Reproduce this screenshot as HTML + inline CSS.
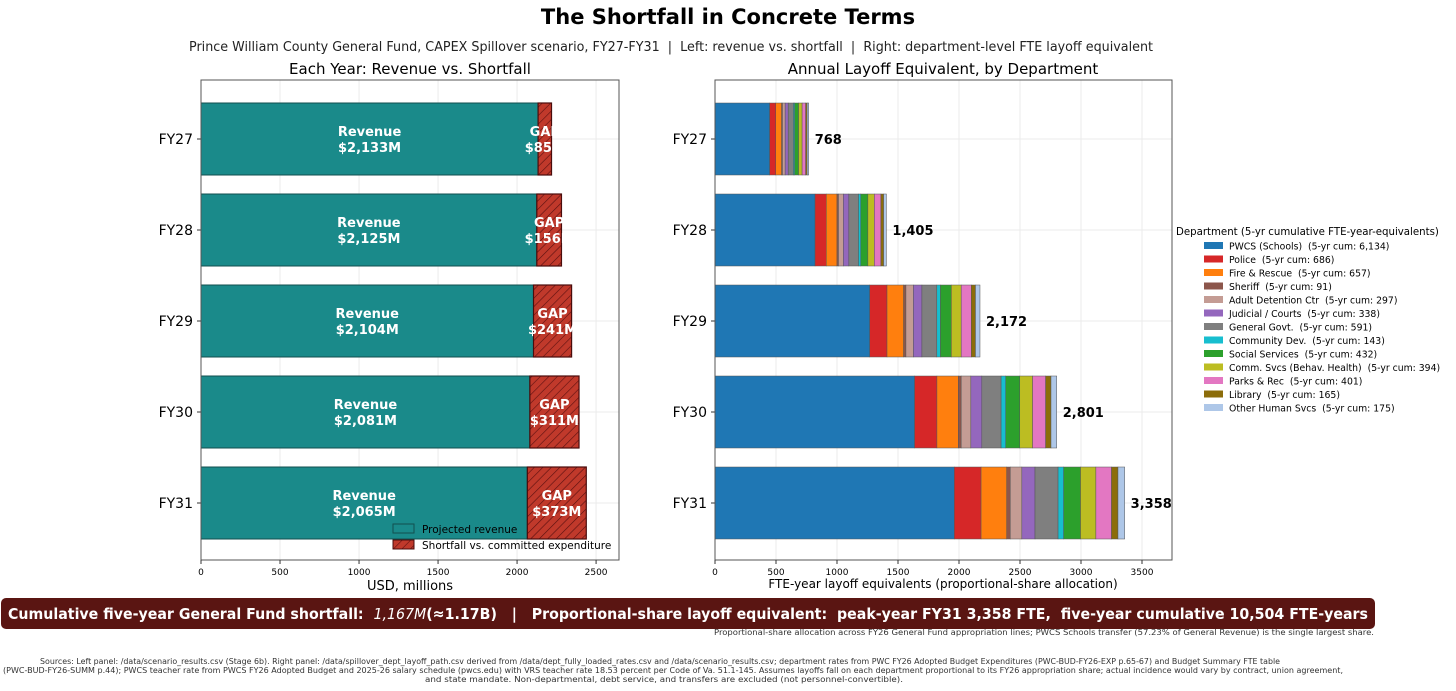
<!DOCTYPE html>
<html><head><meta charset="utf-8"><style>
html,body{margin:0;padding:0;background:#fff;}
svg{display:block;font-family:"DejaVu Sans","Liberation Sans",sans-serif;}
svg text{white-space:pre;}
</style></head><body>
<svg id="fig" width="1456" height="691" viewBox="0 0 1456 691" xmlns="http://www.w3.org/2000/svg" xml:space="preserve">
<defs>
<pattern id="hatch" patternUnits="userSpaceOnUse" width="6" height="6" patternTransform="rotate(45)">
<rect width="6" height="6" fill="#c0392b"/><line x1="0" y1="0" x2="0" y2="6" stroke="#5a1010" stroke-width="1.2"/>
</pattern>
</defs>
<text x="728" y="24" text-anchor="middle" font-size="21" font-weight="bold">The Shortfall in Concrete Terms</text>
<text x="671" y="51" text-anchor="middle" font-size="13" fill="#222" textLength="964" lengthAdjust="spacingAndGlyphs">Prince William County General Fund, CAPEX Spillover scenario, FY27-FY31  |  Left: revenue vs. shortfall  |  Right: department-level FTE layoff equivalent</text>
<text x="410" y="74" text-anchor="middle" font-size="15">Each Year: Revenue vs. Shortfall</text>
<text x="943" y="74" text-anchor="middle" font-size="15">Annual Layoff Equivalent, by Department</text>
<g id="left"></g>
<g id="right"></g>
<g id="legend"></g>
<rect x="1" y="598" width="1374" height="31" rx="5" fill="#5a1512"/>
<text x="688" y="619" text-anchor="middle" font-size="15.5" font-weight="bold" fill="#fff" textLength="1360" lengthAdjust="spacingAndGlyphs">Cumulative five-year General Fund shortfall:  <tspan font-weight="normal" font-style="italic">1,167M</tspan>(≈1.17B)   |   Proportional-share layoff equivalent:  peak-year FY31 3,358 FTE,  five-year cumulative 10,504 FTE-years</text>
<text x="1374" y="635" text-anchor="end" font-size="8" fill="#333" textLength="660" lengthAdjust="spacingAndGlyphs">Proportional-share allocation across FY26 General Fund appropriation lines; PWCS Schools transfer (57.23% of General Revenue) is the single largest share.</text>
<g font-size="7.6" fill="#333" text-anchor="middle">
<text x="660" y="664" textLength="1240" lengthAdjust="spacingAndGlyphs">Sources: Left panel: /data/scenario_results.csv (Stage 6b). Right panel: /data/spillover_dept_layoff_path.csv derived from /data/dept_fully_loaded_rates.csv and /data/scenario_results.csv; department rates from PWC FY26 Adopted Budget Expenditures (PWC-BUD-FY26-EXP p.65-67) and Budget Summary FTE table</text>
<text x="673" y="673" textLength="1340" lengthAdjust="spacingAndGlyphs">(PWC-BUD-FY26-SUMM p.44); PWCS teacher rate from PWCS FY26 Adopted Budget and 2025-26 salary schedule (pwcs.edu) with VRS teacher rate 18.53 percent per Code of Va. 51.1-145. Assumes layoffs fall on each department proportional to its FY26 appropriation share; actual incidence would vary by contract, union agreement,</text>
<text x="664" y="682" textLength="478" lengthAdjust="spacingAndGlyphs">and state mandate. Non-departmental, debt service, and transfers are excluded (not personnel-convertible).</text>
</g>
</svg>
<script>
const years = ["FY27","FY28","FY29","FY30","FY31"];
const revenue = [2133,2125,2104,2081,2065];
const gap = [85,156,241,311,373];
const leftTicks = [0,500,1000,1500,2000,2500];
const deptNames = ["PWCS (Schools)","Police","Fire & Rescue","Sheriff","Adult Detention Ctr","Judicial / Courts","General Govt.","Community Dev.","Social Services","Comm. Svcs (Behav. Health)","Parks & Rec","Library","Other Human Svcs"];
const deptCum = ["6,134","686","657","91","297","338","591","143","432","394","401","165","175"];
const deptColors = ["#1f77b4","#d62728","#ff7f0e","#8c564b","#c49c94","#9467bd","#7f7f7f","#17becf","#2ca02c","#bcbd22","#e377c2","#8c6d0a","#aec7e8"];
const fy27 = [448,50,48,7,22,25,43,10,32,29,29,12,13];
const fy28 = [820,92,88,12,40,45,79,19,58,53,54,22,23];
const fy29 = [1268,142,136,19,61,70,122,30,89,81,83,34,37];
const fy30 = [1636,183,175,24,79,90,158,38,115,105,107,44,47];
const fy31 = [1962,219,210,29,95,108,189,46,138,126,128,53,55];
const deptByYear = [fy27,fy28,fy29,fy30,fy31];
const totals = [768,1405,2172,2801,3358];
const rightTicks = [0,500,1000,1500,2000,2500,3000,3500];

const NS="http://www.w3.org/2000/svg";
function mk(parent,tag,attrs,txt){const e=document.createElementNS(NS,tag);for(const k in attrs)e.setAttribute(k,attrs[k]);if(txt!==undefined)e.textContent=txt;parent.appendChild(e);return e;}
const PT=80,PB=560,BH=72;
function yC(i){return 139+i*91;}

// LEFT
const L=document.getElementById('left');
const lx0=201,lx1=619,lmax=2645;
const lx=v=>lx0+v/lmax*(lx1-lx0);
leftTicks.forEach(t=>{
  const g=mk(L,'line',{x1:lx(t),x2:lx(t),y1:PT,y2:PB,stroke:'#ebebeb'});
  
});
years.forEach((y,i)=>{mk(L,'line',{x1:lx0,x2:lx1,y1:yC(i),y2:yC(i),stroke:'#ebebeb'});});
years.forEach((y,i)=>{
  const top=yC(i)-BH/2;
  const r=mk(L,'rect',{x:lx(0),y:top,width:lx(revenue[i])-lx(0),height:BH,fill:'#1a8a8a',stroke:'#124f4f','stroke-width':1});
  
  
  const gr=mk(L,'rect',{x:lx(revenue[i]),y:top,width:lx(revenue[i]+gap[i])-lx(revenue[i]),height:BH,fill:'url(#hatch)',stroke:'#4a0c0c','stroke-width':1.2});
  
  
  const cx=(lx(0)+lx(revenue[i]))/2;
  mk(L,'text',{x:cx,y:yC(i)-3,'text-anchor':'middle','font-size':13,'font-weight':'bold',fill:'#fff'},'Revenue');
  mk(L,'text',{x:cx,y:yC(i)+13,'text-anchor':'middle','font-size':13,'font-weight':'bold',fill:'#fff'},'$'+revenue[i].toLocaleString('en-US')+'M');
  const gx=(lx(revenue[i])+lx(revenue[i]+gap[i]))/2;
  mk(L,'text',{x:gx,y:yC(i)-3,'text-anchor':'middle','font-size':13,'font-weight':'bold',fill:'#fff'},'GAP');
  mk(L,'text',{x:gx,y:yC(i)+13,'text-anchor':'middle','font-size':13,'font-weight':'bold',fill:'#fff'},'$'+gap[i]+'M');
  mk(L,'line',{x1:lx0-4,x2:lx0,y1:yC(i),y2:yC(i),stroke:'#333'});
  const yl=mk(L,'text',{x:lx0-8,y:yC(i)+5,'text-anchor':'end','font-size':14},y);
  
});
mk(L,'rect',{x:lx0,y:PT,width:lx1-lx0,height:PB-PT,fill:'none',stroke:'#555','stroke-width':1});
leftTicks.forEach(t=>{
  mk(L,'line',{x1:lx(t),x2:lx(t),y1:PB,y2:PB+4,stroke:'#333'});
  const tl=mk(L,'text',{x:lx(t),y:PB+15,'text-anchor':'middle','font-size':9},String(t));
  
});
mk(L,'text',{x:410,y:590,'text-anchor':'middle','font-size':13},'USD, millions');
// left legend
mk(L,'rect',{x:393,y:524,width:21,height:9,fill:'#1a8a8a',stroke:'#124f4f'});
mk(L,'text',{x:422,y:533,'font-size':10.5},'Projected revenue');
mk(L,'rect',{x:393,y:540,width:21,height:9,fill:'url(#hatch)',stroke:'#4a0c0c'});
mk(L,'text',{x:422,y:549,'font-size':10.5},'Shortfall vs. committed expenditure');

// RIGHT
const R=document.getElementById('right');
const rx0=715,rx1=1172,rscale=0.122;
const rx=v=>rx0+v*rscale;
rightTicks.forEach(t=>{mk(R,'line',{x1:rx(t),x2:rx(t),y1:PT,y2:PB,stroke:'#ebebeb'});});
years.forEach((y,i)=>{mk(R,'line',{x1:rx0,x2:rx1,y1:yC(i),y2:yC(i),stroke:'#ebebeb'});});
years.forEach((y,i)=>{
  const top=yC(i)-BH/2;let acc=0;
  deptByYear[i].forEach((v,j)=>{
    const s=mk(R,'rect',{x:rx(acc),y:top,width:rx(acc+v)-rx(acc),height:BH,fill:deptColors[j],stroke:'#555','stroke-width':0.5});
    
    
    acc+=v;
  });
  const tl=mk(R,'text',{x:rx(acc)+6,y:yC(i)+5,'font-size':13,'font-weight':'bold'},totals[i].toLocaleString('en-US'));
  
  mk(R,'line',{x1:rx0-4,x2:rx0,y1:yC(i),y2:yC(i),stroke:'#333'});
  mk(R,'text',{x:rx0-8,y:yC(i)+5,'text-anchor':'end','font-size':14},y);
});
mk(R,'rect',{x:rx0,y:PT,width:rx1-rx0,height:PB-PT,fill:'none',stroke:'#555','stroke-width':1});
rightTicks.forEach(t=>{
  mk(R,'line',{x1:rx(t),x2:rx(t),y1:PB,y2:PB+4,stroke:'#333'});
  mk(R,'text',{x:rx(t),y:PB+15,'text-anchor':'middle','font-size':9},String(t));
});
mk(R,'text',{x:943,y:588,'text-anchor':'middle','font-size':12},'FTE-year layoff equivalents (proportional-share allocation)');

// LEGEND
const G=document.getElementById('legend');
mk(G,'text',{x:1176,y:235,'font-size':10.2},'Department (5-yr cumulative FTE-year-equivalents)');
deptNames.forEach((n,j)=>{
  const y=242+j*13.5;
  const sw=mk(G,'rect',{x:1204,y:y,width:19,height:7,fill:deptColors[j]});
  
  const t=mk(G,'text',{x:1229,y:y+7.5,'font-size':9.3},n+'  (5-yr cum: '+deptCum[j]+')');
  
});
</script>
</body></html>
